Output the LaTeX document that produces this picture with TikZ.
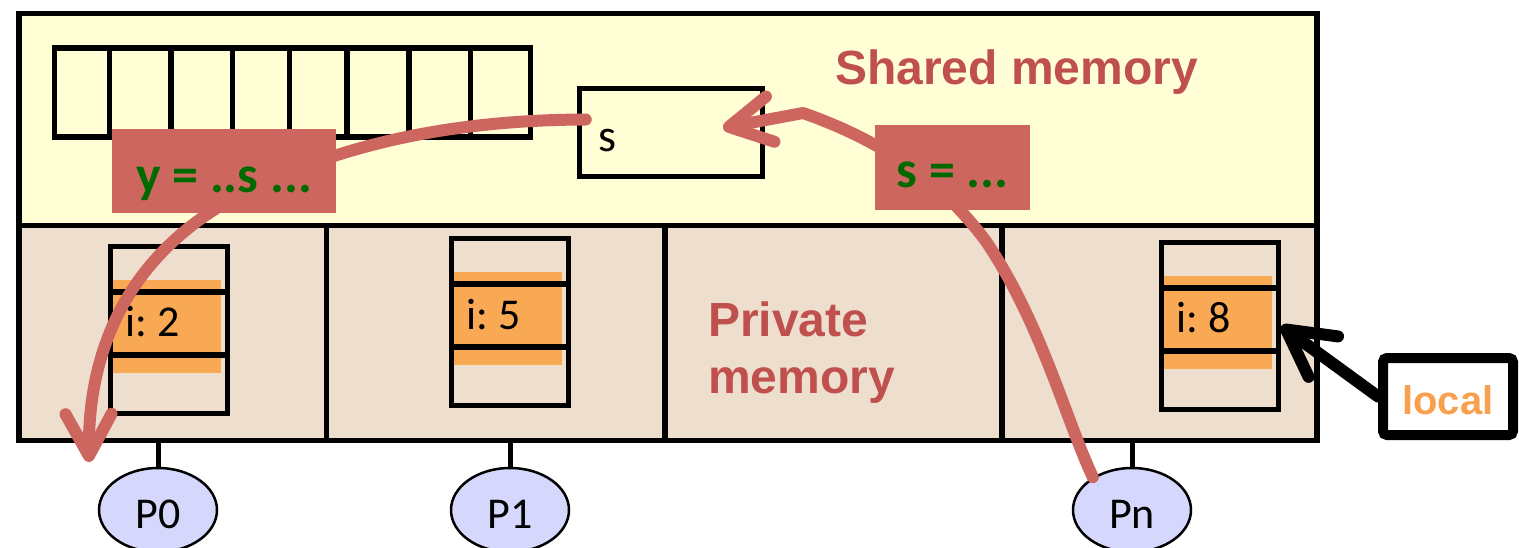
\documentclass[tikz,border=0pt]{standalone}
\usepackage{fontspec}
\setmainfont{Carlito}
\newfontfamily\arialfont{Liberation Sans}
\usetikzlibrary{shapes.geometric,arrows.meta,calc}
\definecolor{sharedfill}{HTML}{FFFED5}
\definecolor{privfill}{HTML}{EEDECD}
\definecolor{flowred}{HTML}{CD665F}
\definecolor{titlered}{HTML}{C0504D}
\definecolor{codegreen}{HTML}{006A00}
\definecolor{bandorange}{HTML}{F9A854}
\definecolor{procfill}{HTML}{D5D7FD}
\definecolor{localorange}{HTML}{F9A04E}
\begin{document}
\begin{tikzpicture}[x=1pt,y=-1pt,
 region/.style={draw=black,line width=5.5pt,inner sep=0pt,anchor=north west},
 stackframe/.style={draw=black,line width=5.5pt,inner sep=0pt,anchor=north west,minimum width=117pt,minimum height=167pt},
 sepline/.style={line width=5.5pt},
 valtext/.style={anchor=base west,inner sep=0pt,font=\fontsize{44}{46}\selectfont},
 proc/.style={ellipse,draw=black,line width=2.5pt,fill=procfill,minimum width=118pt,minimum height=84pt,inner sep=0pt,text height=37pt,text depth=0pt,font=\fontsize{44}{46}\selectfont},
 stub/.style={line width=5pt},
 flow/.style={draw=flowred,line width=12pt,line cap=round,line join=round,-{Straight Barb[length=42pt,width=46pt,round]}},
 codebox/.style={fill=flowred,inner sep=0pt,anchor=base,text=codegreen,font=\bfseries\fontsize{52}{56}\selectfont},
 titletext/.style={text=titlered,inner sep=0pt,anchor=base west,font=\arialfont\bfseries\fontsize{48}{56}\selectfont},
 pointer/.style={draw=black,line width=12pt,line cap=round,line join=round,-{Straight Barb[length=46pt,width=50pt,round]}}
]
\useasboundingbox (0,0) rectangle (1519,548);

% memory regions
\node[region,fill=sharedfill,minimum width=1298pt,minimum height=212pt] (sh) at (16,11) {};
\node[region,fill=privfill,minimum width=1298pt,minimum height=214.5pt] (pv) at (16,223) {};
\foreach \xx in {326.5,665,1002}
  \draw[line width=5.5pt] (\xx,223) -- (\xx,437.5);

% shared array
\node[draw=black,line width=5.5pt,inner sep=0pt,anchor=north west,minimum width=476pt,minimum height=89pt] (arr) at (51.5,45.5) {};
\foreach \xx in {109.5,171,232.5,289.5,347,409,470.5}
  \draw[line width=5.5pt] (\xx,45.5) -- (\xx,134.5);

% shared variable s
\node[draw=black,line width=5.5pt,inner sep=0pt,minimum width=183pt,minimum height=88pt] (sbox) at (671,132.5) {};
\node[anchor=base west,inner sep=0pt,font=\fontsize{46}{48}\selectfont] (stext) at (598,152) {s};

% private stack frames
\foreach \n/\x/\y/\v in {f0/105/241/2,f1/446/233/5,fn/1156/237/8}{
  \fill[bandorange] (\x+4,\y+39) rectangle (\x+116,\y+132);
  \draw[sepline] (\x+3,\y+51) -- (\x+120,\y+51);
  \draw[sepline] (\x+3,\y+114) -- (\x+120,\y+114);
  \node[stackframe] (\n) at (\x+2.75,\y+2.75) {};
  \node[valtext] (\n-val) at (\x+20,\y+96) {i:~\v};
}

% processors
\node[proc] (P0) at (158,510) {P0};
\node[proc] (P1) at (510,510) {P1};
\node[proc] (Pn) at (1132,510) {Pn};
\foreach \p in {P0,P1,Pn}
  \draw[stub] (\p.north) -- (\p.north |- pv.south);

% data flow curves
\coordinate (p0end) at (89,462);
\coordinate (sin) at ($(sbox.center)+(52,-4.5)$);
\draw[flow] ($(sbox.west)+(9,-13)$) .. controls (450,120) and (330,145) .. (225,203)
            .. controls (120,265) and (88,360) .. (p0end);
\draw[flow] (Pn.140) .. controls (1066,420) and (1040,320) .. (985,240)
            .. controls (940,180) and (880,140) .. (803,113) -- (sin);

% code boxes
\node[codebox,minimum width=224pt,text height=64pt,text depth=20pt] (ybox) at (224,193) {y = ..s ...};
\node[codebox,minimum width=155pt,text height=63pt,text depth=22pt] (sassign) at (952.5,188) {s = ...};

% titles
\node[titletext] (shtitle) at (835,85) {Shared memory};
\node[titletext] (pvtitle1) at (708,337) {Private};
\node[titletext] (pvtitle2) at (708,393) {memory};

% local label
\node[draw=black,line width=10pt,rounded corners=4pt,fill=white,inner sep=0pt,minimum width=130pt,
      text height=56pt,text depth=21pt,anchor=base,text=localorange,
      font=\arialfont\bfseries\fontsize{40}{44}\selectfont] (localbox) at (1448,414) {local};
\draw[pointer] (localbox.west) -- (fn.east);
\end{tikzpicture}
\end{document}
